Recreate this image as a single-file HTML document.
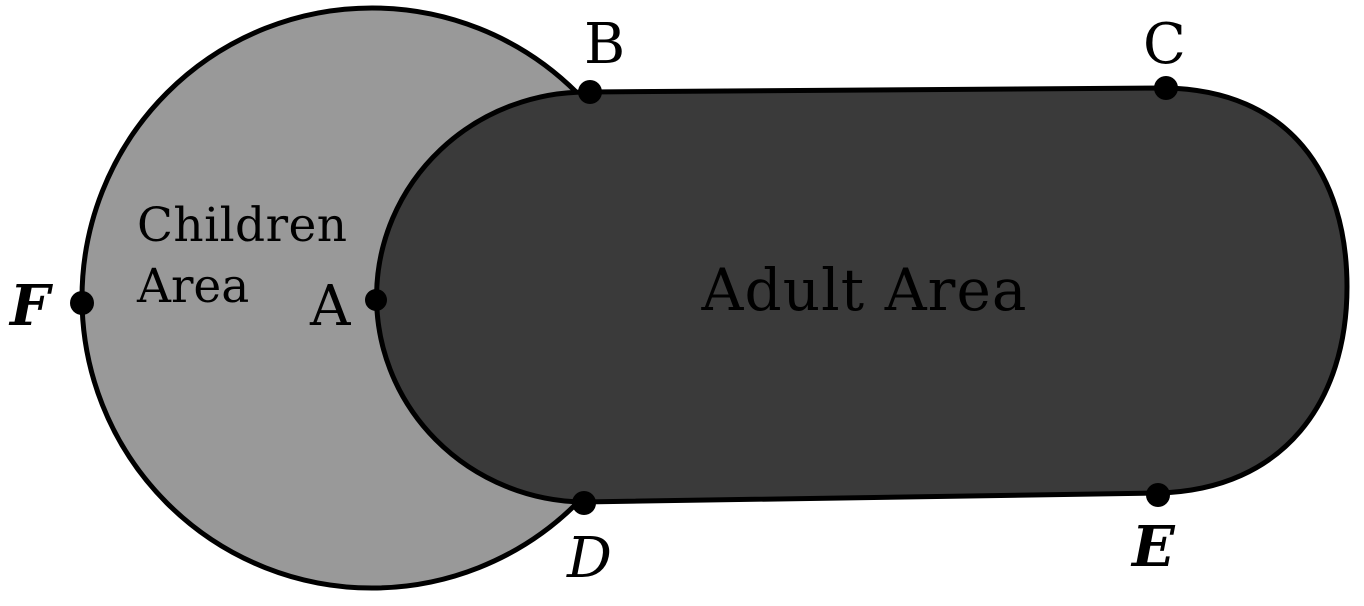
<!DOCTYPE html>
<html><head><meta charset="utf-8"><style>
html,body{margin:0;padding:0;background:#fff;}
svg{display:block;}
text{font-family:"DejaVu Serif","Liberation Serif",serif;fill:#000;}
</style></head><body>
<svg width="1364" height="606" viewBox="0 0 1364 606">
  <circle cx="372" cy="298" r="290" fill="#999999" stroke="#000" stroke-width="5"/>
  <path d="M590,92 L1165,88 C1290,90 1347,175 1347,287 C1347,400 1285,490 1158,493 L583,502 A210,205 0 0 1 590,92 Z" fill="#3a3a3a" stroke="#000" stroke-width="5"/>
  <g>
    <circle cx="82" cy="303" r="12" fill="#000"/>
    <circle cx="376" cy="300" r="11" fill="#000"/>
    <circle cx="590" cy="92" r="12" fill="#000"/>
    <circle cx="1166" cy="88" r="12" fill="#000"/>
    <circle cx="584" cy="503" r="12" fill="#000"/>
    <circle cx="1158" cy="495" r="12" fill="#000"/>
  </g>
  <text x="137" y="241" font-size="47" textLength="210">Children</text>
  <text x="137" y="302" font-size="47">Area</text>
  <text x="864" y="310" font-size="58" text-anchor="middle" textLength="325">Adult Area</text>
  <text x="584" y="63" font-size="56">B</text>
  <text x="1143" y="63" font-size="56">C</text>
  <text x="310" y="325" font-size="56">A</text>
  <text x="10" y="325" font-size="56" font-style="italic" font-weight="bold">F</text>
  <text x="567" y="577" font-size="56" font-style="italic">D</text>
  <text x="1132" y="566" font-size="56" font-style="italic" font-weight="bold">E</text>
</svg>
</body></html>
